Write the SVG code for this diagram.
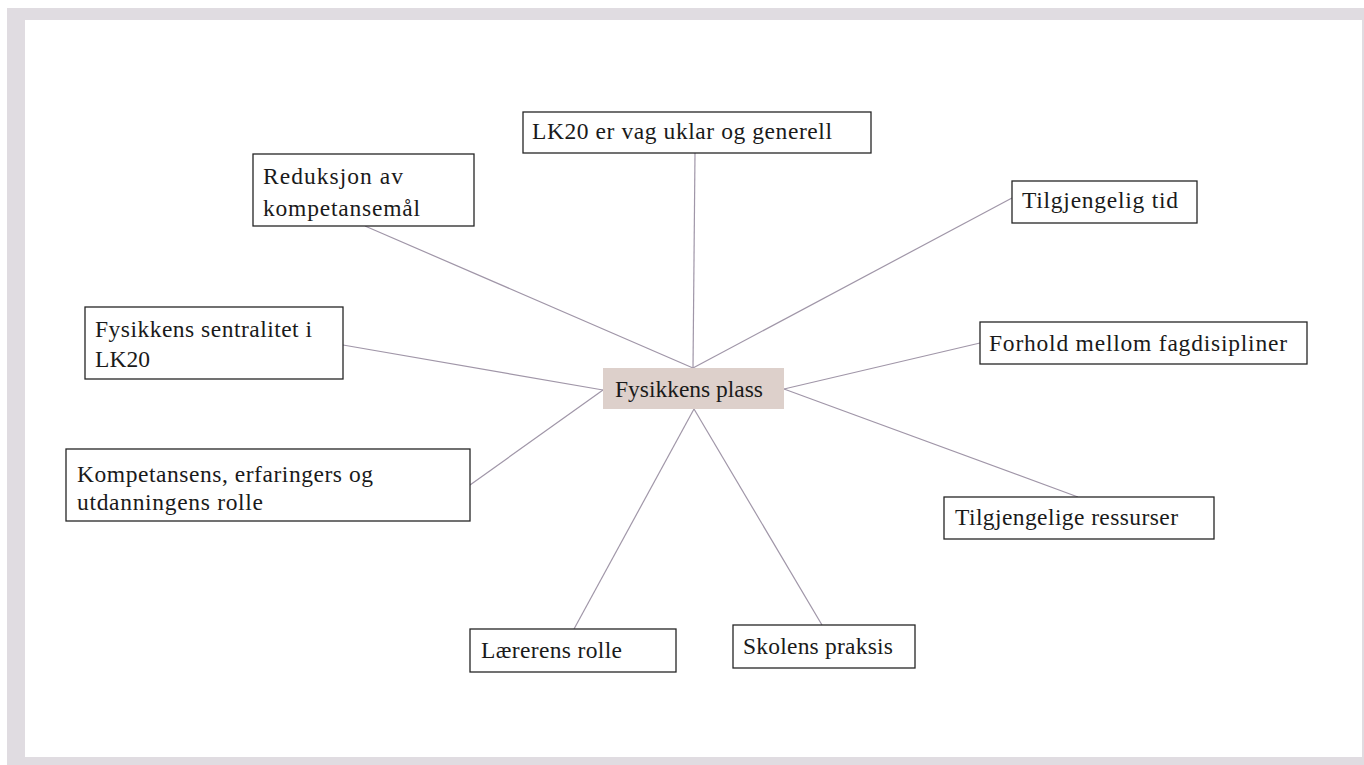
<svg xmlns="http://www.w3.org/2000/svg" width="1364" height="765" viewBox="0 0 1364 765">
<style>
.box{fill:#ffffff;stroke:#262626;stroke-width:1.3}
.center{fill:#DDD0CB;stroke:none}
.t{font-family:"Liberation Serif","Times New Roman",serif;font-size:23.5px;fill:#1a1a1a}
.c{stroke:#A096A8;stroke-width:1.2;fill:none}
</style>
<rect x="0" y="0" width="1364" height="765" fill="#ffffff"/>
<rect x="7" y="8" width="1357" height="757" fill="#E0DCE1"/>
<rect x="25" y="20" width="1337" height="737" fill="#ffffff"/>
<g id="connectors">
<line class="c" x1="695" y1="153" x2="693" y2="368"/>
<line class="c" x1="365" y1="226" x2="693" y2="368"/>
<line class="c" x1="1012" y1="198" x2="693" y2="368"/>
<line class="c" x1="343" y1="345" x2="603" y2="390"/>
<line class="c" x1="980" y1="343" x2="784" y2="389"/>
<line class="c" x1="470" y1="485" x2="603" y2="390"/>
<line class="c" x1="1078" y1="497" x2="784" y2="389"/>
<line class="c" x1="574" y1="629" x2="694" y2="409"/>
<line class="c" x1="822" y1="625" x2="694" y2="409"/>
</g>
<g id="n-center"><rect class="center" x="603" y="368" width="181" height="41"/><text class="t" x="615" y="397" textLength="148" lengthAdjust="spacing">Fysikkens plass</text></g>
<g id="n-lk20"><rect class="box" x="523" y="112" width="348" height="41"/><text class="t" x="532" y="139" textLength="300" lengthAdjust="spacing">LK20 er vag uklar og generell</text></g>
<g id="n-reduksjon"><rect class="box" x="253" y="154" width="221" height="72"/><text class="t" x="263" y="184" textLength="140" lengthAdjust="spacing">Reduksjon av</text><text class="t" x="263" y="216" textLength="157" lengthAdjust="spacing">kompetansemål</text></g>
<g id="n-tid"><rect class="box" x="1012" y="181" width="185" height="42"/><text class="t" x="1022" y="208" textLength="156" lengthAdjust="spacing">Tilgjengelig tid</text></g>
<g id="n-sentralitet"><rect class="box" x="85" y="307" width="258" height="72"/><text class="t" x="95" y="337" textLength="217" lengthAdjust="spacing">Fysikkens sentralitet i</text><text class="t" x="95" y="367" textLength="55" lengthAdjust="spacing">LK20</text></g>
<g id="n-forhold"><rect class="box" x="980" y="322" width="327" height="42"/><text class="t" x="989" y="351" textLength="298" lengthAdjust="spacing">Forhold mellom fagdisipliner</text></g>
<g id="n-kompetanse"><rect class="box" x="66" y="449" width="404" height="72"/><text class="t" x="77" y="482" textLength="296" lengthAdjust="spacing">Kompetansens, erfaringers og</text><text class="t" x="77" y="510" textLength="186" lengthAdjust="spacing">utdanningens rolle</text></g>
<g id="n-ressurser"><rect class="box" x="944" y="497" width="270" height="42"/><text class="t" x="955" y="525" textLength="223" lengthAdjust="spacing">Tilgjengelige ressurser</text></g>
<g id="n-laerer"><rect class="box" x="470" y="629" width="206" height="43"/><text class="t" x="481" y="658" textLength="141" lengthAdjust="spacing">Lærerens rolle</text></g>
<g id="n-skole"><rect class="box" x="733" y="625" width="182" height="43"/><text class="t" x="743" y="654" textLength="150" lengthAdjust="spacing">Skolens praksis</text></g>
</svg>
